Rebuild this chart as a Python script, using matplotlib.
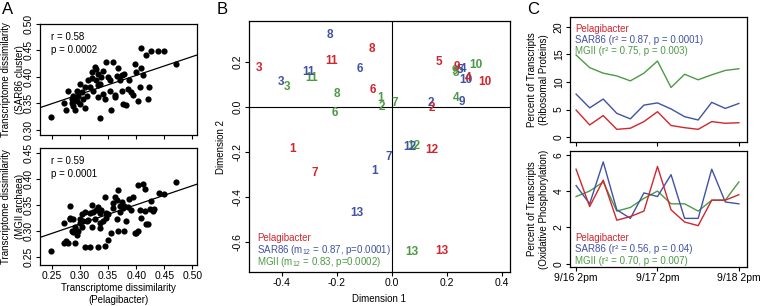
import matplotlib.pyplot as plt
import numpy as np

plt.rcParams["font.family"] = ["Liberation Sans", "DejaVu Sans"]
plt.rcParams["mathtext.fontset"] = "custom"
plt.rcParams["mathtext.rm"] = "Liberation Sans"

RED = "#d0262d"
BLUE = "#4152a3"
GREEN = "#4c9a45"

# Panel A: pairwise transcriptome dissimilarities
pel_top = [0.249, 0.271, 0.276, 0.279, 0.285, 0.285, 0.288, 0.288, 0.291, 0.291,
           0.294, 0.294, 0.297, 0.300, 0.300, 0.303, 0.306, 0.309, 0.309, 0.312,
           0.315, 0.318, 0.321, 0.321, 0.324, 0.326, 0.329, 0.329, 0.332, 0.332,
           0.332, 0.335, 0.335, 0.338, 0.341, 0.341, 0.344, 0.347, 0.350, 0.353,
           0.353, 0.356, 0.359, 0.362, 0.362, 0.365, 0.368, 0.371, 0.374, 0.374,
           0.376, 0.379, 0.382, 0.385, 0.388, 0.391, 0.394, 0.397, 0.400, 0.403,
           0.406, 0.409, 0.409, 0.412, 0.418, 0.421, 0.422, 0.426, 0.438, 0.450,
           0.471]
sar_top = [0.324, 0.350, 0.338, 0.374, 0.351, 0.358, 0.364, 0.345, 0.358, 0.338,
           0.374, 0.355, 0.364, 0.387, 0.349, 0.371, 0.358, 0.380, 0.342, 0.364,
           0.394, 0.380, 0.410, 0.397, 0.374, 0.419, 0.415, 0.394, 0.384, 0.362,
           0.406, 0.322, 0.387, 0.400, 0.412, 0.367, 0.358, 0.428, 0.399, 0.394,
           0.374, 0.338, 0.428, 0.365, 0.362, 0.401, 0.417, 0.394, 0.374, 0.403,
           0.349, 0.406, 0.346, 0.377, 0.394, 0.371, 0.365, 0.425, 0.410, 0.355,
           0.380, 0.454, 0.417, 0.403, 0.442, 0.358, 0.380, 0.449, 0.449, 0.448,
           0.424]
pel_bot = [0.249, 0.271, 0.271, 0.276, 0.279, 0.282, 0.282, 0.283, 0.285, 0.288,
           0.288, 0.291, 0.291, 0.294, 0.294, 0.297, 0.300, 0.300, 0.303, 0.303,
           0.306, 0.309, 0.309, 0.312, 0.315, 0.318, 0.318, 0.321, 0.321, 0.324,
           0.326, 0.329, 0.332, 0.332, 0.335, 0.335, 0.335, 0.338, 0.341, 0.344,
           0.344, 0.347, 0.347, 0.350, 0.350, 0.356, 0.359, 0.359, 0.362, 0.365,
           0.365, 0.368, 0.368, 0.371, 0.371, 0.374, 0.376, 0.379, 0.379, 0.382,
           0.385, 0.388, 0.391, 0.394, 0.397, 0.400, 0.403, 0.403, 0.406, 0.409,
           0.412, 0.415, 0.415, 0.418, 0.421, 0.424, 0.426, 0.429, 0.432, 0.441,
           0.450, 0.471]
mgii_bot = [0.262, 0.278, 0.315, 0.281, 0.278, 0.349, 0.326, 0.324, 0.301, 0.324,
            0.299, 0.308, 0.278, 0.299, 0.292, 0.301, 0.315, 0.324, 0.308, 0.333,
            0.319, 0.269, 0.337, 0.319, 0.322, 0.335, 0.269, 0.351, 0.308, 0.337,
            0.324, 0.340, 0.269, 0.347, 0.306, 0.315, 0.335, 0.340, 0.320, 0.365,
            0.272, 0.326, 0.335, 0.333, 0.283, 0.296, 0.344, 0.354, 0.365, 0.324,
            0.360, 0.379, 0.301, 0.337, 0.349, 0.356, 0.345, 0.349, 0.301, 0.319,
            0.347, 0.361, 0.340, 0.365, 0.297, 0.296, 0.301, 0.388, 0.340, 0.326,
            0.391, 0.381, 0.338, 0.313, 0.313, 0.342, 0.358, 0.338, 0.343, 0.374,
            0.372, 0.394]
fit_top = (0.260, 0.357)  # intercept, slope
fit_bot = (0.204, 0.367)

# Panel B: Procrustes ordination, sample numbers per group
samples = [str(i) for i in range(1, 14)]
pel_d1 = [-0.36, 0.146, -0.484, 0.276, 0.171, -0.069, -0.28, -0.073, 0.236, 0.338,
          -0.218, 0.145, 0.182]
pel_d2 = [-0.187, -0.004, 0.173, 0.129, 0.2, 0.076, -0.293, 0.258, 0.178, 0.111,
          0.204, -0.191, -0.64]
sar_d1 = [-0.062, 0.142, -0.404, 0.258, 0.247, -0.116, -0.011, -0.225, 0.255, 0.268,
          -0.305, 0.065, -0.127]
sar_d2 = [-0.284, 0.018, 0.111, 0.169, 0.164, 0.169, -0.22, 0.32, 0.022, 0.12,
          0.156, -0.178, -0.471]
mgii_d1 = [-0.04, -0.036, -0.382, 0.233, 0.235, -0.207, 0.011, -0.2, 0.228, 0.305,
           -0.291, 0.08, 0.073]
mgii_d2 = [0.04, 0.0, 0.089, 0.04, 0.15, -0.027, 0.018, 0.058, 0.162, 0.187,
           0.129, -0.173, -0.644]

# Panel C: percent of transcripts over time (every 4 h)
time_idx = list(range(13))
time_ticks = [0, 6, 12]
time_labels = ["9/16 2pm", "9/17 2pm", "9/18 2pm"]
ribo_pel = [4.9, 2.2, 3.9, 1.4, 1.6, 2.8, 4.6, 2.1, 1.7, 1.4, 2.8, 2.5, 2.6]
ribo_sar = [7.8, 5.3, 6.9, 4.3, 3.3, 5.8, 6.2, 5.1, 3.7, 3.1, 6.3, 5.2, 6.1]
ribo_mgii = [14.9, 12.6, 11.6, 11.1, 10.2, 11.6, 13.8, 9.0, 11.4, 10.4, 11.3, 12.1, 12.4]
oxph_pel = [5.2, 3.15, 4.6, 2.4, 2.6, 2.9, 5.35, 2.97, 2.3, 2.1, 3.5, 3.5, 3.8]
oxph_sar = [4.3, 3.3, 5.6, 2.97, 2.5, 3.9, 3.7, 4.9, 2.5, 2.5, 5.2, 3.4, 3.3]
oxph_mgii = [3.7, 4.0, 4.5, 2.9, 3.1, 3.6, 4.0, 3.3, 3.3, 2.9, 3.5, 3.5, 4.5]

W, H = 760, 306
fig = plt.figure(figsize=(W / 100, H / 100), dpi=100)


def add_ax(left, top, right, bottom):
    """Axes placed by pixel edges of the 760x306 canvas."""
    ax = fig.add_axes([left / W, 1 - bottom / H, (right - left) / W, (bottom - top) / H])
    ax.tick_params(labelsize=7.5, length=3, width=0.8, pad=1.5)
    for s in ax.spines.values():
        s.set_linewidth(0.9)
    return ax


def rot_y(ax):
    plt.setp(ax.get_yticklabels(), rotation=90, va="center")


def place_ylabel(ax, text, x_px, left, right, spacing=1.5):
    """Two-line y label centred at a pixel column."""
    ax.set_ylabel(text, fontsize=7, linespacing=spacing)
    ax.yaxis.label.set_va("center")
    ax.yaxis.set_label_coords((x_px - left) / (right - left), 0.5)


# --- A ---
xs = np.array([0.22, 0.52])
ax1 = add_ax(40, 24, 197, 135)
ax1.scatter(pel_top, sar_top, s=20, color="black", linewidths=0)
ax1.plot(xs, fit_top[0] + fit_top[1] * xs, color="black", lw=0.9)
ax1.set_xlim(0.229, 0.508)
ax1.set_ylim(0.29, 0.50)
ax1.set_xticks([0.25, 0.30, 0.35, 0.40, 0.45, 0.50])
ax1.set_xticklabels([])
ax1.set_yticks([0.30, 0.35, 0.40, 0.45, 0.50])
ax1.set_yticklabels(["0.30", "0.35", "0.40", "0.45", "0.50"])
rot_y(ax1)
place_ylabel(ax1, "Transcriptome dissimilarity\n(SAR86 cluster)", 13, 40, 197)
ax1.text(0.07, 0.93, "r = 0.58\np = 0.0002", transform=ax1.transAxes, fontsize=7,
         va="top", linespacing=1.4)

ax2 = add_ax(40, 148, 197, 265)
ax2.scatter(pel_bot, mgii_bot, s=20, color="black", linewidths=0)
ax2.plot(xs, fit_bot[0] + fit_bot[1] * xs, color="black", lw=0.9)
ax2.set_xlim(0.229, 0.508)
ax2.set_ylim(0.235, 0.46)
ax2.set_xticks([0.25, 0.30, 0.35, 0.40, 0.45, 0.50])
ax2.set_xticklabels(["0.25", "0.30", "0.35", "0.40", "0.45", "0.50"])
ax2.set_yticks([0.25, 0.30, 0.35, 0.40, 0.45])
ax2.set_yticklabels(["0.25", "0.30", "0.35", "0.40", "0.45"])
rot_y(ax2)
place_ylabel(ax2, "Transcriptome dissimilarity\n(MGII archaea)", 13, 40, 197)
ax2.set_xlabel("Transcriptome dissimilarity\n(Pelagibacter)", fontsize=7,
               labelpad=1, linespacing=1.3)
ax2.text(0.07, 0.93, "r = 0.59\np = 0.0001", transform=ax2.transAxes, fontsize=7,
         va="top", linespacing=1.4)

# --- B ---
ax3 = add_ax(249, 21, 510, 272)
ax3.axhline(0, color="black", lw=0.8)
ax3.axvline(0, color="black", lw=0.8)
for d1, d2, col in [(mgii_d1, mgii_d2, GREEN), (sar_d1, sar_d2, BLUE), (pel_d1, pel_d2, RED)]:
    for lab, x, y in zip(samples, d1, d2):
        ax3.text(x, y, lab, color=col, fontsize=8.5, fontweight="bold",
                 ha="center", va="center")
ax3.set_xlim(-0.52, 0.43)
ax3.set_ylim(-0.733, 0.382)
ax3.set_xticks([-0.4, -0.2, 0.0, 0.2, 0.4])
ax3.set_xticklabels(["-0.4", "-0.2", "0.0", "0.2", "0.4"])
ax3.set_yticks([-0.6, -0.4, -0.2, 0.0, 0.2])
ax3.set_yticklabels(["-0.6", "-0.4", "-0.2", "0.0", "0.2"])
rot_y(ax3)
ax3.set_xlabel("Dimension 1", fontsize=7, labelpad=4)
ax3.set_ylabel("Dimension 2", fontsize=7, labelpad=5)
for i, (txt, col) in enumerate([
        ("Pelagibacter", RED),
        (r"SAR86 ($\mathregular{m_{12}}$ = 0.87, p=0.0001)", BLUE),
        (r"MGII ($\mathregular{m_{12}}$ = 0.83, p=0.0002)", GREEN)]):
    ax3.text(0.03, 0.135 - i * 0.048, txt, color=col, fontsize=7,
             transform=ax3.transAxes, va="center")

# --- C ---
ax4 = add_ax(570, 17, 747, 142)
ax4.plot(time_idx, ribo_mgii, color=GREEN, lw=1)
ax4.plot(time_idx, ribo_sar, color=BLUE, lw=1)
ax4.plot(time_idx, ribo_pel, color=RED, lw=1)
ax4.set_xlim(-0.45, 12.6)
ax4.set_ylim(-0.9, 21.8)
ax4.set_xticks(time_ticks)
ax4.set_xticklabels([])
ax4.set_yticks([0, 5, 10, 15, 20])
ax4.set_yticklabels(["0", "5", "10", "15", "20"])
rot_y(ax4)
place_ylabel(ax4, "Percent of Transcripts\n(Ribosomal Proteins)", 538, 570, 747, 1.25)
for i, (txt, col) in enumerate([
        ("Pelagibacter", RED),
        ("SAR86 (r² = 0.87, p = 0.0001)", BLUE),
        ("MGII (r² = 0.75, p = 0.003)", GREEN)]):
    ax4.text(0.03, 0.905 - i * 0.088, txt, color=col, fontsize=7,
             transform=ax4.transAxes, va="center")

ax5 = add_ax(570, 151, 747, 267)
ax5.plot(time_idx, oxph_mgii, color=GREEN, lw=1)
ax5.plot(time_idx, oxph_sar, color=BLUE, lw=1)
ax5.plot(time_idx, oxph_pel, color=RED, lw=1)
ax5.set_xlim(-0.45, 12.6)
ax5.set_ylim(-0.17, 6.2)
ax5.set_xticks(time_ticks)
ax5.set_xticklabels(time_labels)
ax5.set_yticks([0, 2, 4, 6])
ax5.set_yticklabels(["0", "2", "4", "6"])
rot_y(ax5)
place_ylabel(ax5, "Percent of Transcripts\n(Oxidative Phosphorylation)", 538, 570, 747, 1.25)
for i, (txt, col) in enumerate([
        ("Pelagibacter", RED),
        ("SAR86 (r² = 0.56, p = 0.04)", BLUE),
        ("MGII (r² = 0.70, p = 0.007)", GREEN)]):
    ax5.text(0.03, 0.25 - i * 0.098, txt, color=col, fontsize=7,
             transform=ax5.transAxes, va="center")

# panel letters
fig.text(2 / W, 1 - 9 / H, "A", fontsize=12, va="center")
fig.text(217 / W, 1 - 9 / H, "B", fontsize=12, va="center")
fig.text(527 / W, 1 - 10 / H, "C", fontsize=12, va="center")

fig.savefig("out.png", dpi=100)
